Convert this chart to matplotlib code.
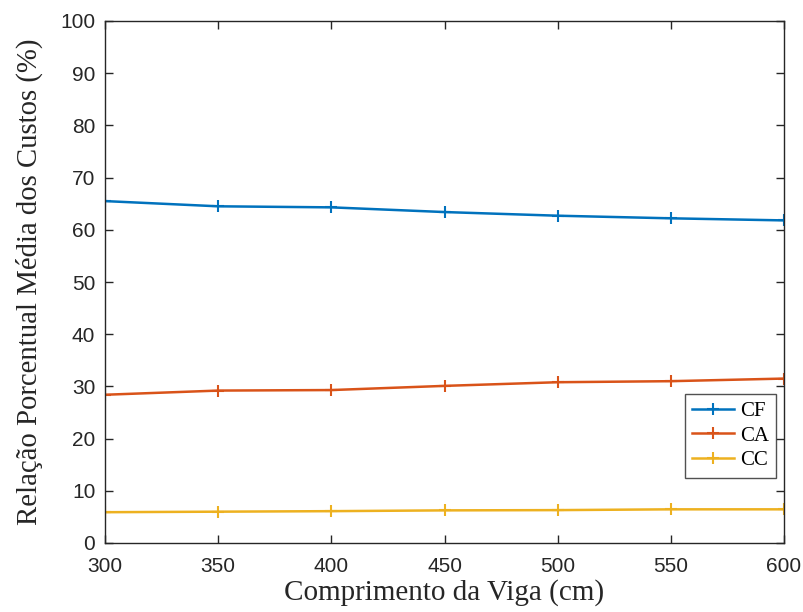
import matplotlib
matplotlib.use("Agg")
import matplotlib.pyplot as plt

comprimento = [300, 350, 400, 450, 500, 550, 600]
cf = [65.5, 64.5, 64.3, 63.4, 62.7, 62.2, 61.8]
ca = [28.4, 29.2, 29.3, 30.1, 30.8, 31.0, 31.5]
cc = [5.9, 6.0, 6.1, 6.25, 6.3, 6.45, 6.45]
series_names = ["CF", "CA", "CC"]
colors = ["#0072BD", "#D95319", "#EDB120"]

fig = plt.figure(figsize=(8.04, 6.12), dpi=100)
ax = fig.add_axes([105/804, 1-543/612, (784-105)/804, (543-21)/612])

for vals, name, c in zip([cf, ca, cc], series_names, colors):
    ax.plot(comprimento, vals, color=c, lw=1.8, marker="+", ms=8, mew=1.5, label=name)

ax.set_xlim(300, 600)
ax.set_ylim(0, 100)
ax.set_xticks(range(300, 601, 50))
ax.set_yticks(range(0, 101, 10))
ax.tick_params(direction="in", length=6, width=1, top=True, right=True,
               labelsize=15, colors="#262626", labelcolor="#262626")
ax.tick_params(axis="x", pad=10)
ax.tick_params(axis="y", pad=7)
for lab in ax.get_xticklabels() + ax.get_yticklabels():
    lab.set_fontfamily("Liberation Sans")
for s in ax.spines.values():
    s.set_color("#262626")
    s.set_linewidth(1)

ax.set_xlabel("Comprimento da Viga (cm)", fontfamily="Liberation Serif", fontsize=21,
              labelpad=2, color="#262626")
ax.set_ylabel("Relação Porcentual Média dos Custos (%)", fontfamily="Liberation Serif",
              fontsize=20.7, labelpad=12, color="#262626")

leg = ax.legend(loc="lower right", bbox_to_anchor=(0.9885, 0.125),
                prop={"family": "Liberation Serif", "size": 15},
                frameon=True, fancybox=False, edgecolor="#262626",
                handlelength=2.0, handletextpad=0.3, borderpad=0.35, labelspacing=0.25,
                borderaxespad=0)
leg.get_frame().set_linewidth(1)

fig.savefig("out.png", dpi=100)
